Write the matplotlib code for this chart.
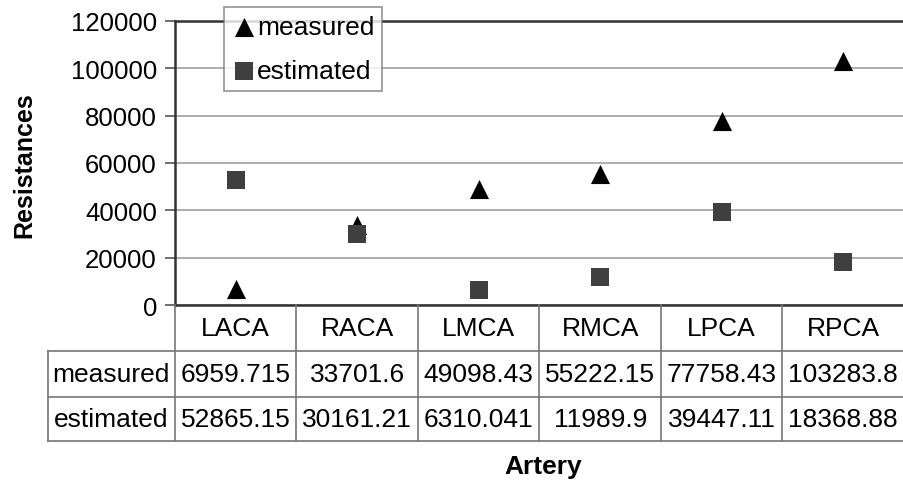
import matplotlib
matplotlib.use("Agg")
import matplotlib.pyplot as plt
from matplotlib.transforms import blended_transform_factory
from matplotlib.lines import Line2D

plt.rcParams['font.family'] = ['Liberation Sans', 'DejaVu Sans']

categories = ["LACA", "RACA", "LMCA", "RMCA", "LPCA", "RPCA"]
measured = [6959.715, 33701.6, 49098.43, 55222.15, 77758.43, 103283.8]
estimated = [52865.15, 30161.21, 6310.041, 11989.9, 39447.11, 18368.88]
measured_txt = ["6959.715", "33701.6", "49098.43", "55222.15", "77758.43", "103283.8"]
estimated_txt = ["52865.15", "30161.21", "6310.041", "11989.9", "39447.11", "18368.88"]
yticks = [0, 20000, 40000, 60000, 80000, 100000, 120000]

W, H = 904, 481
fig = plt.figure(figsize=(W / 100, H / 100), dpi=100)

def fx(px):
    return px / W

def fy(py):
    return 1 - py / H

FS = 19
ax_left, ax_right, ax_top, ax_bot = 175, 904, 22, 306
ax = fig.add_axes([fx(ax_left), fy(ax_bot), fx(ax_right - ax_left), fy(ax_top) - fy(ax_bot)])

x = list(range(len(categories)))
ax.scatter(x, measured, marker='^', s=190, color='black', zorder=3, label='measured', linewidths=0)
ax.scatter(x, estimated, marker='s', s=150, color='#3f3f3f', zorder=4, label='estimated', linewidths=0)

ax.set_xlim(-0.5, len(categories) - 0.5)
ax.set_ylim(0, 120000)
ax.set_yticks(yticks)
ax.set_yticklabels([str(v) for v in yticks], fontsize=18.5)
ax.set_xticks([])
ax.grid(axis='y', color='#a8a8a8', linewidth=1.3)
ax.set_axisbelow(True)
for s in ['left', 'bottom', 'top']:
    ax.spines[s].set_color('#333333')
    ax.spines[s].set_linewidth(1.8)
ax.spines['right'].set_visible(False)
ax.tick_params(axis='y', length=7, width=1.2, color='#555555', pad=6)

fig.text(fx(24), fy(165), "Resistances", rotation=90, ha='center', va='center',
         fontsize=18, fontweight='bold')

# legend
leg = ax.legend(loc='upper left', bbox_to_anchor=(fx(224), fy(8)), bbox_transform=fig.transFigure,
                fontsize=FS, frameon=True, fancybox=False, edgecolor='#777777',
                handletextpad=0.05, handlelength=0.9, borderpad=0.3, labelspacing=0.75,
                markerscale=1.0, borderaxespad=0)
leg.get_frame().set_linewidth(1.2)
leg.set_zorder(10)

# data table
tr = blended_transform_factory(ax.transData, fig.transFigure)
rows_y = [306, 352, 398, 442]
lc = '#777777'
lw = 1.2
n = len(categories)
for py in rows_y[1:]:
    fig.add_artist(Line2D([fx(48), fx(904)], [fy(py), fy(py)], color=lc, lw=lw))
fig.add_artist(Line2D([fx(48), fx(48)], [fy(352), fy(442)], color=lc, lw=lw))
for i in range(n + 1):
    xb = i - 0.5
    fig.add_artist(Line2D([xb, xb], [fy(306), fy(442)], color=lc, lw=lw, transform=tr))

def mid(a, b):
    return fy((a + b) / 2)

for i, c in enumerate(categories):
    fig.text(i, mid(306, 352), c, transform=tr, ha='center', va='center', fontsize=FS)
    fig.text(i, mid(352, 398), measured_txt[i], transform=tr, ha='center', va='center', fontsize=FS)
    fig.text(i, mid(398, 442), estimated_txt[i], transform=tr, ha='center', va='center', fontsize=FS)
fig.text(fx(111), mid(352, 398), "measured", ha='center', va='center', fontsize=FS)
fig.text(fx(111), mid(398, 442), "estimated", ha='center', va='center', fontsize=FS)

fig.text(fx(543), fy(467), "Artery", ha='center', va='center', fontsize=FS, fontweight='bold')

fig.savefig("out.png", dpi=100)
